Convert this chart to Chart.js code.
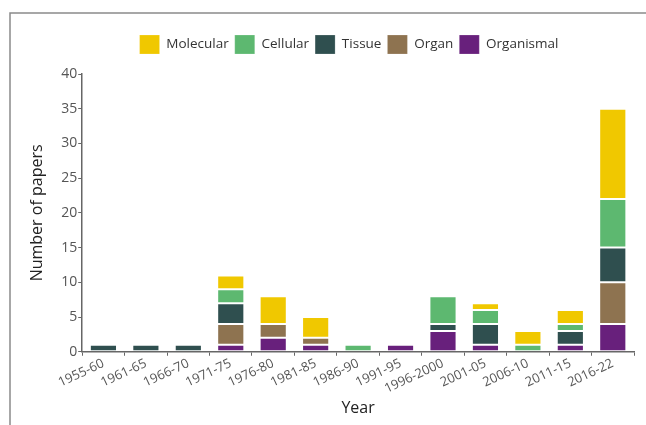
<!DOCTYPE html>
<html>
<head>
<meta charset="utf-8">
<script src="https://cdn.jsdelivr.net/npm/chart.js@4.4.0/dist/chart.umd.min.js"></script>
<style>
html,body{margin:0;padding:0;background:#fff;}
#wrap{position:absolute;left:0;top:0;width:646px;height:425px;}
</style>
</head>
<body>
<div id="wrap"><canvas id="c" width="646" height="425"></canvas></div>
<script>
const categories = ["1955-60","1961-65","1966-70","1971-75","1976-80","1981-85","1986-90","1991-95","1996-2000","2001-05","2006-10","2011-15","2016-22"];
const organismal = [0,0,0,1,2,1,0,1,3,1,0,1,4];
const organ      = [0,0,0,3,2,1,0,0,0,0,0,0,6];
const tissue     = [1,1,1,3,0,0,0,0,1,3,0,2,5];
const cellular   = [0,0,0,2,0,0,1,0,4,2,1,1,7];
const molecular  = [0,0,0,2,4,3,0,0,0,1,2,2,13];
const yTicks = [0,5,10,15,20,25,30,35,40];

const FONT = "'Open Sans', 'Noto Sans', sans-serif";

const framePlugin = {
  id:'frame',
  beforeInit(chart){
    if (chart.legend) {
      const orig = chart.legend.fit.bind(chart.legend);
      chart.legend.fit = function(){ orig(); this.height += 10; };
    }
  },
  afterLayout(chart){
    if (chart.legend) { chart.legend.left += 20; chart.legend.right += 20; }
  },
  beforeDraw(chart){
    const ctx = chart.ctx;
    ctx.save();
    ctx.strokeStyle = '#8a8a8a';
    ctx.lineWidth = 1.5;
    ctx.beginPath();
    ctx.moveTo(10, 425);
    ctx.lineTo(10, 13);
    ctx.lineTo(646, 13);
    ctx.stroke();
    ctx.restore();
  }
};

const ds = (label, data, color) => ({
  label, data, backgroundColor: color, borderColor: 'rgba(255,255,255,0.2)', borderWidth: 1,
  borderSkipped: false, barPercentage: 0.64, categoryPercentage: 1.0
});

new Chart(document.getElementById('c'), {
  type: 'bar',
  data: {
    labels: categories,
    datasets: [
      ds('Organismal', organismal, '#68207c'),
      ds('Organ', organ, '#8e7350'),
      ds('Tissue', tissue, '#2f4f4f'),
      ds('Cellular', cellular, '#5db870'),
      ds('Molecular', molecular, '#f0c800')
    ]
  },
  plugins: [framePlugin],
  options: {
    responsive: false,
    animation: false,
    devicePixelRatio: 1,
    layout: { padding: { top: 29, right: 12, left: 24, bottom: 3 } },
    plugins: {
      tooltip: { enabled: false },
      legend: {
        position: 'top',
        reverse: true,
        labels: {
          boxWidth: 20, boxHeight: 19, padding: 6,
          color: '#333',
          font: { family: FONT, size: 13.5 }
        }
      }
    },
    scales: {
      x: {
        stacked: true,
        grid: { display: true, drawOnChartArea: false, drawTicks: true, tickLength: 4, color: '#666' },
        border: { display: true, color: '#666', width: 1.5 },
        ticks: { color: '#555', font: { family: FONT, size: 13 }, minRotation: 25, maxRotation: 25, padding: 0, autoSkip: false },
        title: { display: true, text: 'Year', color: '#222', font: { family: FONT, size: 16 }, padding: { top: 2 } }
      },
      y: {
        stacked: true,
        min: 0, max: 40,
        afterBuildTicks(scale){ scale.ticks = yTicks.map(v => ({ value: v })); },
        grid: { display: true, drawOnChartArea: false, drawTicks: true, tickLength: 4, color: '#666' },
        border: { display: true, color: '#666', width: 1.5 },
        ticks: { color: '#555', font: { family: FONT, size: 14 }, padding: 1 },
        title: { display: true, text: 'Number of papers', color: '#222', font: { family: FONT, size: 16 }, padding: { bottom: 13 } }
      }
    }
  }
});
</script>
</body>
</html>
